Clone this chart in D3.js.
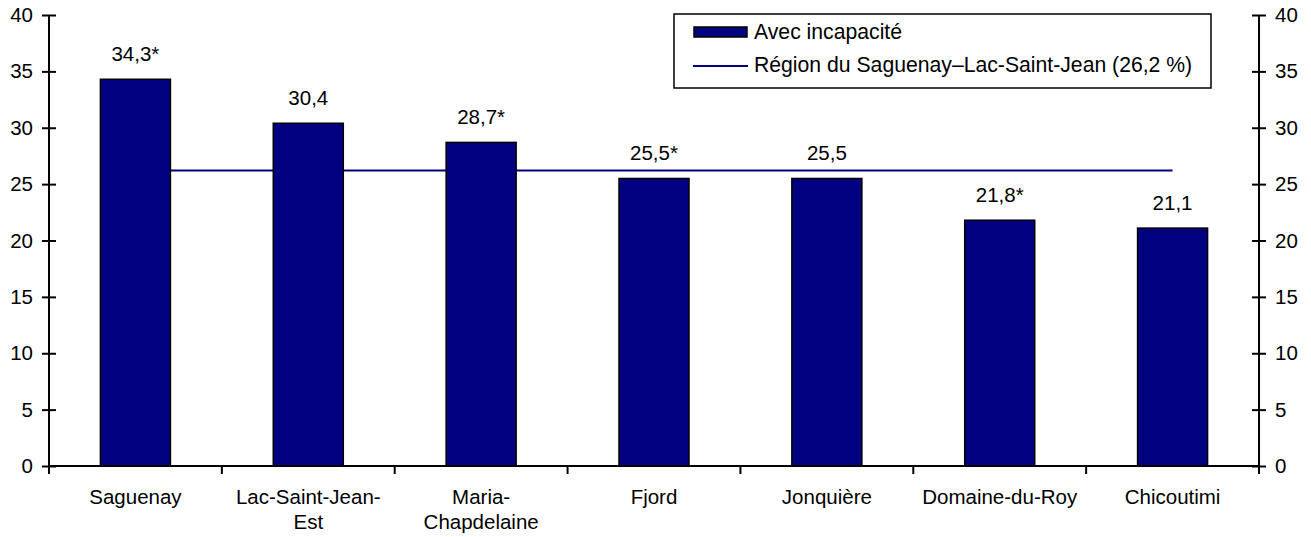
<!DOCTYPE html>
<html>
<head>
<meta charset="utf-8">
<script src="https://cdn.jsdelivr.net/npm/d3@7"></script>
<style>
  html, body { margin: 0; padding: 0; background: #fff; }
  svg text { font-family: "Liberation Sans", Arial, sans-serif; fill: #000; }
</style>
</head>
<body>
<svg id="chart" width="1311" height="537"></svg>
<script>
// Proportion avec incapacité, par territoire (%)
const categories = ["Saguenay", "Lac-Saint-Jean-Est", "Maria-Chapdelaine", "Fjord", "Jonquière", "Domaine-du-Roy", "Chicoutimi"];
const categoryLines = [["Saguenay"], ["Lac-Saint-Jean-", "Est"], ["Maria-", "Chapdelaine"], ["Fjord"], ["Jonquière"], ["Domaine-du-Roy"], ["Chicoutimi"]];
const values = [34.3, 30.4, 28.7, 25.5, 25.5, 21.8, 21.1];
const valueLabels = ["34,3*", "30,4", "28,7*", "25,5*", "25,5", "21,8*", "21,1"];
const regionValue = 26.2;
const yTicks = [0, 5, 10, 15, 20, 25, 30, 35, 40];
const legendLabels = ["Avec incapacité", "Région du Saguenay–Lac-Saint-Jean (26,2 %)"];

const svg = d3.select("#chart");
const plotLeft = 49, plotRight = 1259, plotTop = 15, plotBottom = 466;
const fs = 20.5;
const legendFs = 21.2;
const barFill = "#000080";

const x = d3.scaleBand().domain(categories).range([plotLeft, plotRight]).paddingInner(0.595).paddingOuter(0.2975);
const y = d3.scaleLinear().domain([0, 40]).range([plotBottom, plotTop]);

// Reference line for the region, drawn behind the bars
const xc = c => x(c) + x.bandwidth() / 2;
svg.append("line")
  .attr("x1", xc(categories[0])).attr("x2", xc(categories[categories.length - 1]))
  .attr("y1", y(regionValue)).attr("y2", y(regionValue))
  .attr("stroke", barFill).attr("stroke-width", 2);

// Bars
svg.selectAll("rect.bar").data(values).join("rect")
  .attr("class", "bar")
  .attr("x", (d, i) => x(categories[i]))
  .attr("y", d => y(d))
  .attr("width", x.bandwidth())
  .attr("height", d => y(0) - y(d))
  .attr("fill", barFill).attr("stroke", "#000").attr("stroke-width", 1.5);

// Value labels
svg.selectAll("text.val").data(values).join("text")
  .attr("class", "val")
  .attr("x", (d, i) => xc(categories[i]))
  .attr("y", d => y(d) - 18)
  .attr("text-anchor", "middle")
  .attr("font-size", fs)
  .text((d, i) => valueLabels[i]);

// Left and right value axes
const yAxisL = d3.axisLeft(y).tickValues(yTicks).tickSize(7).tickPadding(9);
const gL = svg.append("g").attr("transform", `translate(${plotLeft},0)`).call(yAxisL);
const yAxisR = d3.axisRight(y).tickValues(yTicks).tickSize(7).tickPadding(9);
const gR = svg.append("g").attr("transform", `translate(${plotRight},0)`).call(yAxisR);
[gL, gR].forEach(g => {
  g.select(".domain").attr("stroke", "#000").attr("stroke-width", 2).attr("d", `M0,${plotTop}V${plotBottom}`);
  g.selectAll(".tick line").attr("stroke", "#000").attr("stroke-width", 2).attr("x1", -7).attr("x2", 7);
  g.selectAll(".tick text").attr("font-size", fs).attr("font-family", null).attr("fill", "#000");
});
gL.selectAll(".tick text").attr("x", -16);
gR.selectAll(".tick text").attr("x", 16);

// Category axis: baseline with ticks between categories
const catBounds = d3.range(categories.length + 1).map(i => plotLeft + i * (plotRight - plotLeft) / categories.length);
svg.append("line").attr("x1", plotLeft).attr("x2", plotRight).attr("y1", plotBottom).attr("y2", plotBottom)
  .attr("stroke", "#000").attr("stroke-width", 2);
svg.selectAll("line.ctick").data(catBounds).join("line")
  .attr("class", "ctick")
  .attr("x1", d => d).attr("x2", d => d)
  .attr("y1", plotBottom).attr("y2", plotBottom + 8)
  .attr("stroke", "#000").attr("stroke-width", 2);

const catText = svg.selectAll("text.cat").data(categories).join("text")
  .attr("class", "cat")
  .attr("text-anchor", "middle")
  .attr("font-size", fs);
catText.each(function(c, i) {
  const t = d3.select(this);
  categoryLines[i].forEach((line, k) => {
    t.append("tspan").attr("x", xc(c)).attr("y", 504 + k * 25).text(line);
  });
});

// Legend
const lg = svg.append("g");
lg.append("rect").attr("x", 674).attr("y", 14).attr("width", 537).attr("height", 74)
  .attr("fill", "#fff").attr("stroke", "#000").attr("stroke-width", 1.5);
lg.append("rect").attr("x", 694).attr("y", 27).attr("width", 53).attr("height", 10)
  .attr("fill", barFill).attr("stroke", "#000").attr("stroke-width", 1.5);
lg.append("text").attr("x", 754).attr("y", 39).attr("font-size", legendFs).text(legendLabels[0]);
lg.append("line").attr("x1", 693).attr("x2", 748).attr("y1", 66).attr("y2", 66)
  .attr("stroke", barFill).attr("stroke-width", 2);
lg.append("text").attr("x", 754).attr("y", 72).attr("font-size", legendFs).text(legendLabels[1]);
</script>
</body>
</html>
